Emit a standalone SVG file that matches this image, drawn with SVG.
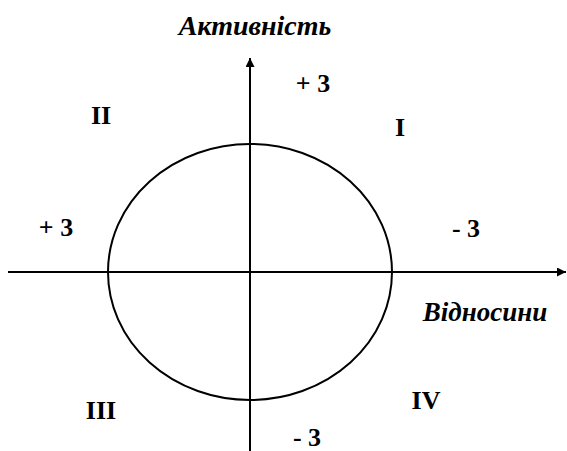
<svg xmlns="http://www.w3.org/2000/svg" width="567" height="451" viewBox="0 0 567 451">
<defs>
<marker id="arr" viewBox="0 0 10 10" refX="10" refY="5" markerWidth="9" markerHeight="9" markerUnits="userSpaceOnUse" orient="auto">
<path d="M0,0 L10,5 L0,10 z" fill="#000"/>
</marker>
</defs>
<style>
.ax{stroke:#000;stroke-width:2;fill:none}
.t{font-family:'Liberation Serif','Times New Roman','DejaVu Serif',serif;font-weight:bold;fill:#000}
.it{font-style:italic}
</style>
<rect width="567" height="451" fill="#fff"/>
<g id="connectors">
<line class="ax" x1="250" y1="451" x2="250" y2="58" marker-end="url(#arr)"/>
<line class="ax" x1="8" y1="272" x2="566" y2="272" marker-end="url(#arr)"/>
</g>
<g id="ellipse"><ellipse class="ax" cx="250" cy="272" rx="142" ry="128"/></g>
<g id="labels">
<text class="t it" x="255" y="35" font-size="28" text-anchor="middle">Активність</text>
<text class="t it" x="485" y="321" font-size="27" text-anchor="middle">Відносини</text>
<text class="t" x="313" y="92" font-size="26" text-anchor="middle">+ 3</text>
<text class="t" x="56" y="236" font-size="26" text-anchor="middle">+ 3</text>
<text class="t" x="466" y="237" font-size="26" text-anchor="middle">- 3</text>
<text class="t" x="307" y="446" font-size="26" text-anchor="middle">- 3</text>
<text class="t" x="101" y="124" font-size="26" text-anchor="middle">II</text>
<text class="t" x="400" y="136" font-size="26" text-anchor="middle">I</text>
<text class="t" x="101" y="419" font-size="26" text-anchor="middle">III</text>
<text class="t" x="426" y="409" font-size="26" text-anchor="middle">IV</text>
</g>
</svg>
